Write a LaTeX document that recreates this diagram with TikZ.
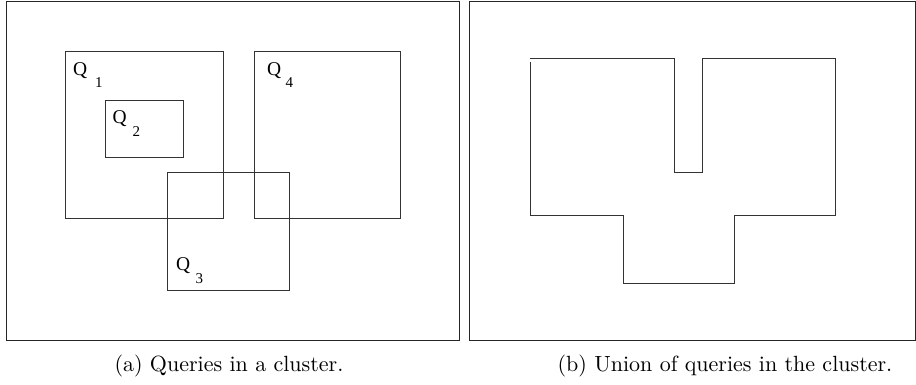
\documentclass[tikz,border=0pt]{standalone}
\usepackage{fontspec}
\newfontfamily\qfont{Liberation Serif}
\begin{document}
\begin{tikzpicture}[x=1pt,y=-1pt,
  frame/.style={draw=black!85,line width=0.9pt},
  qbox/.style={draw=black!80,line width=0.85pt},
  qmain/.style={anchor=base west,inner sep=0pt,font=\qfont\fontsize{19.5}{24}\selectfont},
  qsub/.style={anchor=base west,inner sep=0pt,font=\qfont\fontsize{15}{18}\selectfont},
  caption/.style={anchor=base,inner sep=0pt,scale=2.2,font=\fontsize{10}{12}\selectfont}]
\useasboundingbox (0,0) rectangle (916,385);

% left panel: the queries
\draw[frame] (6.5,1) rectangle (459,340);
\draw[qbox] (65.5,51) rectangle (223,218.5);
\draw[qbox] (105,100) rectangle (183.5,157.5);
\draw[qbox] (167.5,172.5) rectangle (289.5,290.5);
\draw[qbox] (254.5,51) rectangle (400,218.5);

\node[qmain] (q1) at (73,76) {Q};
\node[qsub]  (s1) at (95,88) {1};
\node[qmain] (q2) at (112.5,124) {Q};
\node[qsub]  (s2) at (132.5,137) {2};
\node[qmain] (q3) at (176,270) {Q};
\node[qsub]  (s3) at (195.5,283) {3};
\node[qmain] (q4) at (267,76) {Q};
\node[qsub]  (s4) at (285.5,88) {4};

% right panel: their union
\draw[frame] (469,1) rectangle (915,340);
\draw[qbox] (530,58.5) -- (674,58.5) -- (674,172.5) -- (702.5,172.5)
  -- (702.5,58.5) -- (835,58.5) -- (835,215.5) -- (734.5,215.5)
  -- (734.5,283.5) -- (623,283.5) -- (623,215.5) -- (530,215.5) -- (530,62.5);

% captions
\node[caption] (ca) at (229,371) {(a) Queries in a cluster.};
\node[caption] (cb) at (725,371) {(b) Union of queries in the cluster.};
\end{tikzpicture}
\end{document}
